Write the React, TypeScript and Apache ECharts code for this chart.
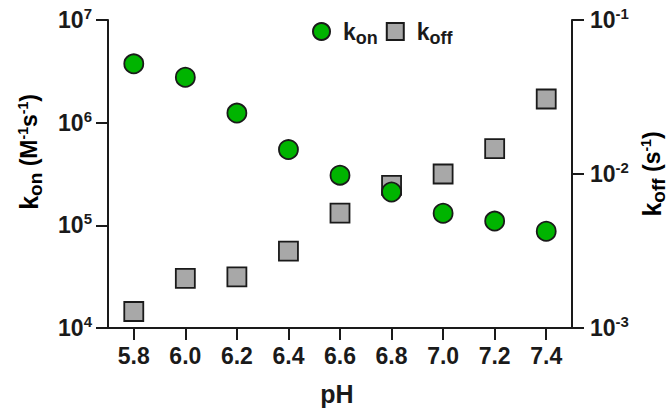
import React, { useEffect, useRef } from "react";
import * as echarts from "echarts";

const phValues = [5.8, 6.0, 6.2, 6.4, 6.6, 6.8, 7.0, 7.2, 7.4];
const konValues = [3.74e6, 2.77e6, 1.24e6, 5.47e5, 3.08e5, 2.11e5, 1.31e5, 1.1e5, 8.75e4];
const koffValues = [1.28e-3, 2.1e-3, 2.15e-3, 3.16e-3, 5.57e-3, 8.43e-3, 1.0e-2, 1.46e-2, 3.07e-2];
const xTickValues = [5.8, 6.0, 6.2, 6.4, 6.6, 6.8, 7.0, 7.2, 7.4];

const FONT = "'Liberation Sans', Arial, sans-serif";
const INK = "#1a1a1a";

const tickRich = {
  b: { fontSize: 23, fontWeight: "bold", fontFamily: FONT, color: INK },
  s: { fontSize: 15, fontWeight: "bold", fontFamily: FONT, color: INK, padding: [0, 0, 13, 0] },
};
const titleRich = {
  b: { fontSize: 23, fontWeight: "bold", fontFamily: FONT, color: INK },
  k: { fontSize: 25, fontWeight: "bold", fontFamily: FONT, color: INK },
  s: { fontSize: 14, fontWeight: "bold", fontFamily: FONT, color: INK, padding: [0, 0, 13, 0] },
  sub: { fontSize: 19, fontWeight: "bold", fontFamily: FONT, color: INK, padding: [12, 0, 0, 0] },
};
const legendRich = {
  k: { fontSize: 23, fontWeight: "bold", fontFamily: FONT, color: INK, padding: [0, 0, 0, 8] },
  sub: { fontSize: 18, fontWeight: "bold", fontFamily: FONT, color: INK, padding: [12, 0, 0, 0] },
};

export default function App() {
  const ref = useRef<HTMLDivElement>(null);
  useEffect(() => {
    if (!ref.current) return;
    const chart = echarts.init(ref.current, null, { renderer: "svg" });
    const axisLine = { show: true, lineStyle: { color: INK, width: 2 } };
    const axisTick = { show: true, length: 12, lineStyle: { color: INK, width: 2 } };
    chart.setOption({
      animation: false,
      backgroundColor: "#fff",
      grid: { left: 108, right: 99, top: 20, bottom: 81, containLabel: false },
      legend: {
        data: ["kon", "koff"],
        left: 307,
        top: 15,
        itemWidth: 17,
        itemHeight: 17,
        itemGap: 8,
        formatter: (n: string) => (n === "kon" ? "{k|k}{sub|on}" : "{k|k}{sub|off}"),
        textStyle: { rich: legendRich },
      },
      xAxis: {
        type: "value",
        min: 5.7,
        max: 7.5,
        axisLine,
        axisTick: { ...axisTick, customValues: xTickValues },
        splitLine: { show: false },
        axisLabel: {
          customValues: xTickValues,
          margin: 16,
          fontSize: 23,
          fontWeight: "bold",
          fontFamily: FONT,
          color: INK,
          formatter: (v: number) => v.toFixed(1),
        },
      },
      yAxis: [
        {
          type: "log",
          logBase: 10,
          min: 1e4,
          max: 1e7,
          position: "left",
          axisLine,
          axisTick,
          splitLine: { show: false },
          minorTick: { show: false },
          axisLabel: {
            margin: 16,
            formatter: (v: number) => "{b|10}{s|" + Math.round(Math.log10(v)) + "}",
            rich: tickRich,
          },
        },
        {
          type: "log",
          logBase: 10,
          min: 1e-3,
          max: 1e-1,
          position: "right",
          axisLine,
          axisTick,
          splitLine: { show: false },
          minorTick: { show: false },
          axisLabel: {
            margin: 18,
            formatter: (v: number) => "{b|10}{s|" + Math.round(Math.log10(v)) + "}",
            rich: tickRich,
          },
        },
      ],
      graphic: [
        {
          type: "text",
          x: 29,
          y: 152,
          rotation: Math.PI / 2,
          style: {
            text: "{k|k}{sub|on}{b| (M}{s|-1}{b|s}{s|-1}{b|)}",
            rich: titleRich,
            align: "center",
            verticalAlign: "middle",
          },
        },
        {
          type: "text",
          x: 652,
          y: 174,
          rotation: Math.PI / 2,
          style: {
            text: "{k|k}{sub|off}{b| (s}{s|-1}{b|)}",
            rich: titleRich,
            align: "center",
            verticalAlign: "middle",
          },
        },
        {
          type: "text",
          x: 337,
          y: 394,
          style: {
            text: "pH",
            fontSize: 25,
            fontWeight: "bold",
            fontFamily: FONT,
            fill: INK,
            align: "center",
            verticalAlign: "middle",
          },
        },
      ],
      series: [
        {
          name: "koff",
          type: "scatter",
          yAxisIndex: 1,
          symbol: "rect",
          symbolSize: 19,
          itemStyle: { color: "#A8A8A8", borderColor: INK, borderWidth: 1.8, opacity: 1 },
          data: phValues.map((p, i) => [p, koffValues[i]]),
        },
        {
          name: "kon",
          type: "scatter",
          yAxisIndex: 0,
          symbol: "circle",
          symbolSize: 19,
          itemStyle: { color: "#00B400", borderColor: INK, borderWidth: 1.8, opacity: 1 },
          data: phValues.map((p, i) => [p, konValues[i]]),
        },
      ],
    });
    return () => chart.dispose();
  }, []);
  return <div ref={ref} style={{ position: "fixed", left: 0, top: 0, width: 671, height: 409 }} />;
}
